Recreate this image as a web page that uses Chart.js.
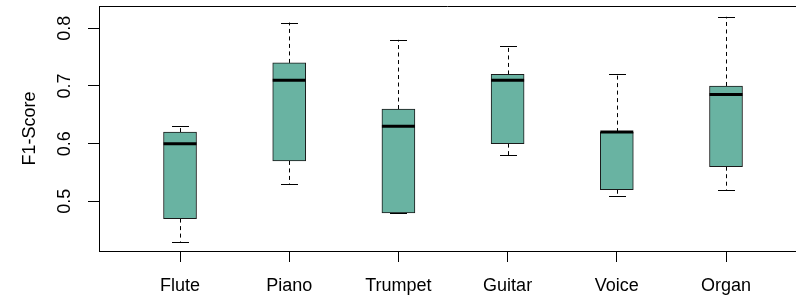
<!DOCTYPE html>
<html>
<head>
<meta charset="utf-8">
<script src="https://cdn.jsdelivr.net/npm/chart.js@4/dist/chart.umd.min.js"></script>
<style>
  html, body { margin: 0; padding: 0; background: #ffffff; }
  #wrap { width: 796px; height: 298px; }
</style>
</head>
<body>
<div id="wrap"><canvas id="c" width="796" height="298"></canvas></div>
<script>
// ---- data ----
const categories = ['Flute', 'Piano', 'Trumpet', 'Guitar', 'Voice', 'Organ'];
const whiskerLow  = [0.43, 0.53, 0.48, 0.58, 0.51, 0.52];
const q1          = [0.47, 0.57, 0.48, 0.60, 0.52, 0.56];
const medians     = [0.60, 0.71, 0.63, 0.71, 0.62, 0.685];
const q3          = [0.62, 0.74, 0.66, 0.72, 0.62, 0.70];
const whiskerHigh = [0.63, 0.81, 0.78, 0.77, 0.72, 0.82];
const yTicks = [0.5, 0.6, 0.7, 0.8];
const yTitle = 'F1-Score';

// ---- style ----
const FONT = '"Liberation Sans", Arial, Helvetica, sans-serif';
const FONT_SIZE = 18;
const BOX_FILL = '#69b3a2';
const BOX_PX = 33;
const STAPLE_HALF = 8.5;

const boxData = categories.map((c, i) => ({ x: i + 1, y: [q1[i], q3[i]] }));

const boxExtras = {
  id: 'boxExtras',
  beforeDatasetsDraw(chart) {
    const ctx = chart.ctx, xs = chart.scales.x, ys = chart.scales.y;
    ctx.save();
    ctx.strokeStyle = '#000';
    ctx.lineWidth = 1;
    categories.forEach((c, i) => {
      const x = Math.round(xs.getPixelForValue(i + 1)) + 0.5;
      const yHi = ys.getPixelForValue(whiskerHigh[i]);
      const yLo = ys.getPixelForValue(whiskerLow[i]);
      const yQ3 = ys.getPixelForValue(q3[i]);
      const yQ1 = ys.getPixelForValue(q1[i]);
      ctx.setLineDash([4, 3.5]);
      ctx.beginPath();
      ctx.moveTo(x, yQ3); ctx.lineTo(x, yHi);
      ctx.moveTo(x, yQ1); ctx.lineTo(x, yLo);
      ctx.stroke();
      ctx.setLineDash([]);
      ctx.beginPath();
      const sh = Math.round(yHi) + 0.5, sl = Math.round(yLo) + 0.5;
      ctx.moveTo(x - STAPLE_HALF, sh); ctx.lineTo(x + STAPLE_HALF, sh);
      ctx.moveTo(x - STAPLE_HALF, sl); ctx.lineTo(x + STAPLE_HALF, sl);
      ctx.stroke();
    });
    ctx.restore();
  },
  afterDatasetsDraw(chart) {
    const ctx = chart.ctx, xs = chart.scales.x, ys = chart.scales.y;
    ctx.save();
    ctx.strokeStyle = '#000';
    ctx.lineWidth = 3;
    categories.forEach((c, i) => {
      const x = xs.getPixelForValue(i + 1);
      const y = ys.getPixelForValue(medians[i]);
      ctx.beginPath();
      ctx.moveTo(x - BOX_PX / 2, y); ctx.lineTo(x + BOX_PX / 2, y);
      ctx.stroke();
    });
    ctx.restore();
  },
  afterDraw(chart) {
    const ctx = chart.ctx, ys = chart.scales.y, a = chart.chartArea;
    ctx.save();
    ctx.strokeStyle = '#000';
    ctx.lineWidth = 1;
    ctx.beginPath();
    ctx.moveTo(a.left, Math.round(a.top) + 0.5);
    ctx.lineTo(a.right, Math.round(a.top) + 0.5);
    ctx.stroke();
    ctx.fillStyle = '#000';
    ctx.font = FONT_SIZE + 'px ' + FONT;
    ctx.textAlign = 'center';
    ctx.textBaseline = 'middle';
    ys.ticks.forEach(t => {
      const y = ys.getPixelForValue(t.value);
      ctx.save();
      ctx.translate(65, y);
      ctx.rotate(-Math.PI / 2);
      ctx.fillText(t.value.toFixed(1), 0, 0);
      ctx.restore();
    });
    ctx.restore();
  }
};

new Chart(document.getElementById('c'), {
  type: 'bar',
  data: {
    datasets: [{
      data: boxData,
      backgroundColor: BOX_FILL,
      borderColor: '#1a1a1a',
      borderWidth: 1,
      borderSkipped: false,
      barThickness: BOX_PX
    }]
  },
  options: {
    responsive: false,
    animation: false,
    devicePixelRatio: 1,
    layout: { padding: { top: 6, left: 0, right: 0, bottom: 0 } },
    plugins: { legend: { display: false }, tooltip: { enabled: false } },
    scales: {
      x: {
        type: 'linear',
        offset: false,
        min: 0.258,
        max: 6.641,
        afterBuildTicks: s => { s.ticks = categories.map((c, i) => ({ value: i + 1 })); },
        afterFit: s => { s.height = 47; },
        grid: { display: true, offset: false, drawOnChartArea: false, drawTicks: true, tickLength: 11, color: '#000', lineWidth: 1 },
        border: { display: true, color: '#000', width: 1 },
        ticks: {
          autoSkip: false, maxRotation: 0, minRotation: 0, padding: 13,
          color: '#000', font: { family: FONT, size: FONT_SIZE },
          callback: v => categories[Math.round(v) - 1]
        }
      },
      y: {
        type: 'linear',
        min: 0.4138,
        max: 0.8387,
        afterBuildTicks: s => { s.ticks = yTicks.map(v => ({ value: v })); },
        afterFit: s => { s.width = 99; },
        grid: { display: true, drawOnChartArea: false, drawTicks: true, tickLength: 11, color: '#000', lineWidth: 1 },
        border: { display: true, color: '#000', width: 1 },
        ticks: { display: false },
        title: {
          display: true, text: yTitle, color: '#000',
          font: { family: FONT, size: FONT_SIZE },
          padding: { top: 19, bottom: 0 }
        }
      }
    }
  },
  plugins: [boxExtras]
});
</script>
</body>
</html>
